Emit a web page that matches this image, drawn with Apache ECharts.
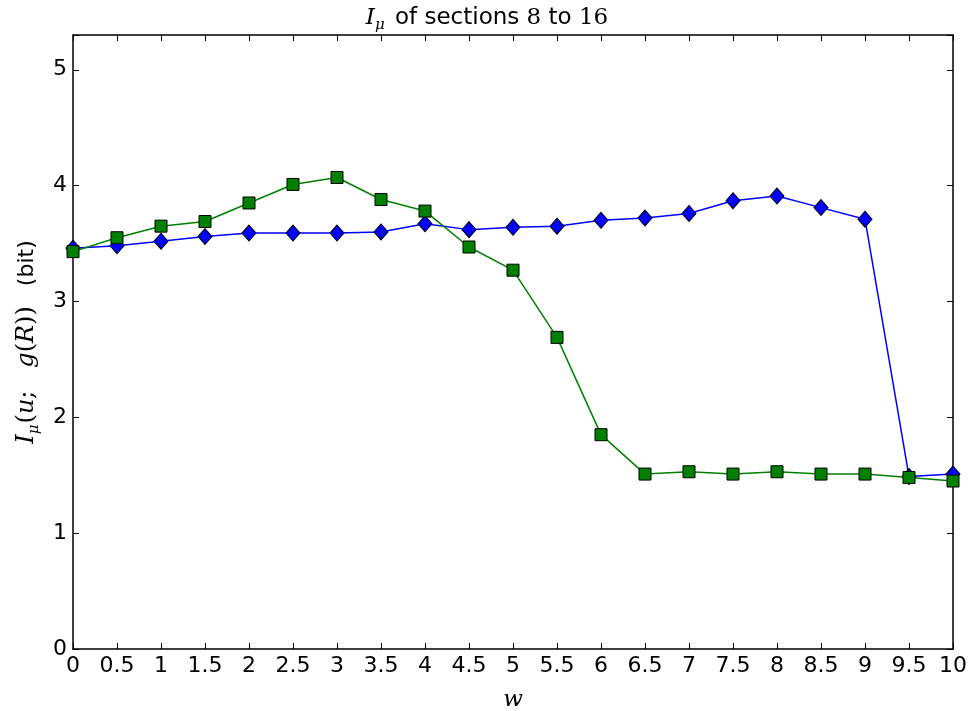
<!DOCTYPE html>
<html>
<head>
<meta charset="utf-8">
<script src="https://cdn.jsdelivr.net/npm/echarts@6/dist/echarts.min.js"></script>
<style>
  html, body { margin: 0; padding: 0; background: #fff; }
  #chart { width: 974px; height: 711px; }
</style>
</head>
<body>
<div id="chart"></div>
<script>
const wValues = [0, 0.5, 1, 1.5, 2, 2.5, 3, 3.5, 4, 4.5, 5, 5.5, 6, 6.5, 7, 7.5, 8, 8.5, 9, 9.5, 10]
const blueValues = [3.46, 3.48, 3.52, 3.56, 3.59, 3.59, 3.59, 3.60, 3.67, 3.62, 3.64, 3.65, 3.70, 3.72, 3.76, 3.87, 3.91, 3.81, 3.71, 1.49, 1.51]
const greenValues = [3.43, 3.55, 3.65, 3.69, 3.85, 4.01, 4.07, 3.88, 3.78, 3.47, 3.27, 2.69, 1.85, 1.51, 1.53, 1.51, 1.53, 1.51, 1.51, 1.48, 1.45]

const pairs = vals => wValues.map((w, i) => [w, vals[i]])

const labelFont = 'DejaVu Sans'
const mathFont = 'DejaVu Serif'

const tickStyle = { show: true, inside: true, length: 6, lineStyle: { color: '#000', width: 1 } }
const axisLine = { show: true, onZero: false, lineStyle: { color: '#000', width: 1.5 } }

const chart = echarts.init(document.getElementById('chart'))
chart.setOption({
  animation: false,
  backgroundColor: '#fff',
  title: {
    text: '{i|I}{s|μ} of sections {n|8} to {n|16}',
    left: 'center',
    top: -1,
    textStyle: {
      fontFamily: labelFont,
      fontSize: 23,
      fontWeight: 'normal',
      color: '#000',
      rich: {
        i: { fontFamily: mathFont, fontStyle: 'italic', fontSize: 23 },
        s: { fontFamily: mathFont, fontStyle: 'italic', fontSize: 15, verticalAlign: 'bottom', padding: [14, 3, 0, 0] },
        n: { fontFamily: mathFont, fontSize: 23 }
      }
    }
  },
  grid: { left: 73, right: 21, top: 35, bottom: 62, outerBoundsMode: 'none' },
  xAxis: [
    {
      type: 'value', min: 0, max: 10, interval: 0.5,
      name: 'w', nameLocation: 'middle', nameGap: 40,
      nameTextStyle: { fontFamily: mathFont, fontStyle: 'italic', fontSize: 23, color: '#000' },
      axisLine, axisTick: tickStyle, splitLine: { show: false },
      axisLabel: { fontFamily: labelFont, fontSize: 22, color: '#000', margin: 6 }
    },
    {
      type: 'value', min: 0, max: 10, interval: 0.5, position: 'top',
      axisLine, axisTick: tickStyle, splitLine: { show: false },
      axisLabel: { show: false }
    }
  ],
  yAxis: [
    {
      type: 'value', min: 0, max: 5.3, interval: 1,
      name: '{i|I}{s|μ}{n|(}{i|u}{n|;   }{i|g}{n|(}{i|R}{n|))}      {t|(bit)}',
      nameLocation: 'middle', nameGap: 28, nameRotate: 90,
      nameTextStyle: {
        color: '#000',
        rich: {
          i: { fontFamily: mathFont, fontStyle: 'italic', fontSize: 24 },
          s: { fontFamily: mathFont, fontStyle: 'italic', fontSize: 15, verticalAlign: 'bottom', padding: [15, 1, 0, 0] },
          n: { fontFamily: mathFont, fontSize: 24 },
          t: { fontFamily: labelFont, fontSize: 22 }
        }
      },
      axisLine, axisTick: tickStyle, splitLine: { show: false },
      axisLabel: {
        fontFamily: labelFont, fontSize: 22, color: '#000', margin: 6,
        formatter: v => (Number.isInteger(v) ? String(v) : '')
      }
    },
    {
      type: 'value', min: 0, max: 5.3, interval: 1, position: 'right',
      axisLine, axisTick: tickStyle, splitLine: { show: false },
      axisLabel: { show: false }
    }
  ],
  series: [
    {
      type: 'line',
      data: pairs(blueValues),
      symbol: 'diamond',
      symbolSize: [14, 16],
      lineStyle: { color: '#0000ff', width: 1.5 },
      itemStyle: { color: '#0000ff', borderColor: '#000', borderWidth: 1 },
      z: 2
    },
    {
      type: 'line',
      data: pairs(greenValues),
      symbol: 'rect',
      symbolSize: 12,
      lineStyle: { color: '#008000', width: 1.5 },
      itemStyle: { color: '#008000', borderColor: '#000', borderWidth: 1 },
      z: 3
    }
  ]
})
</script>
</body>
</html>
